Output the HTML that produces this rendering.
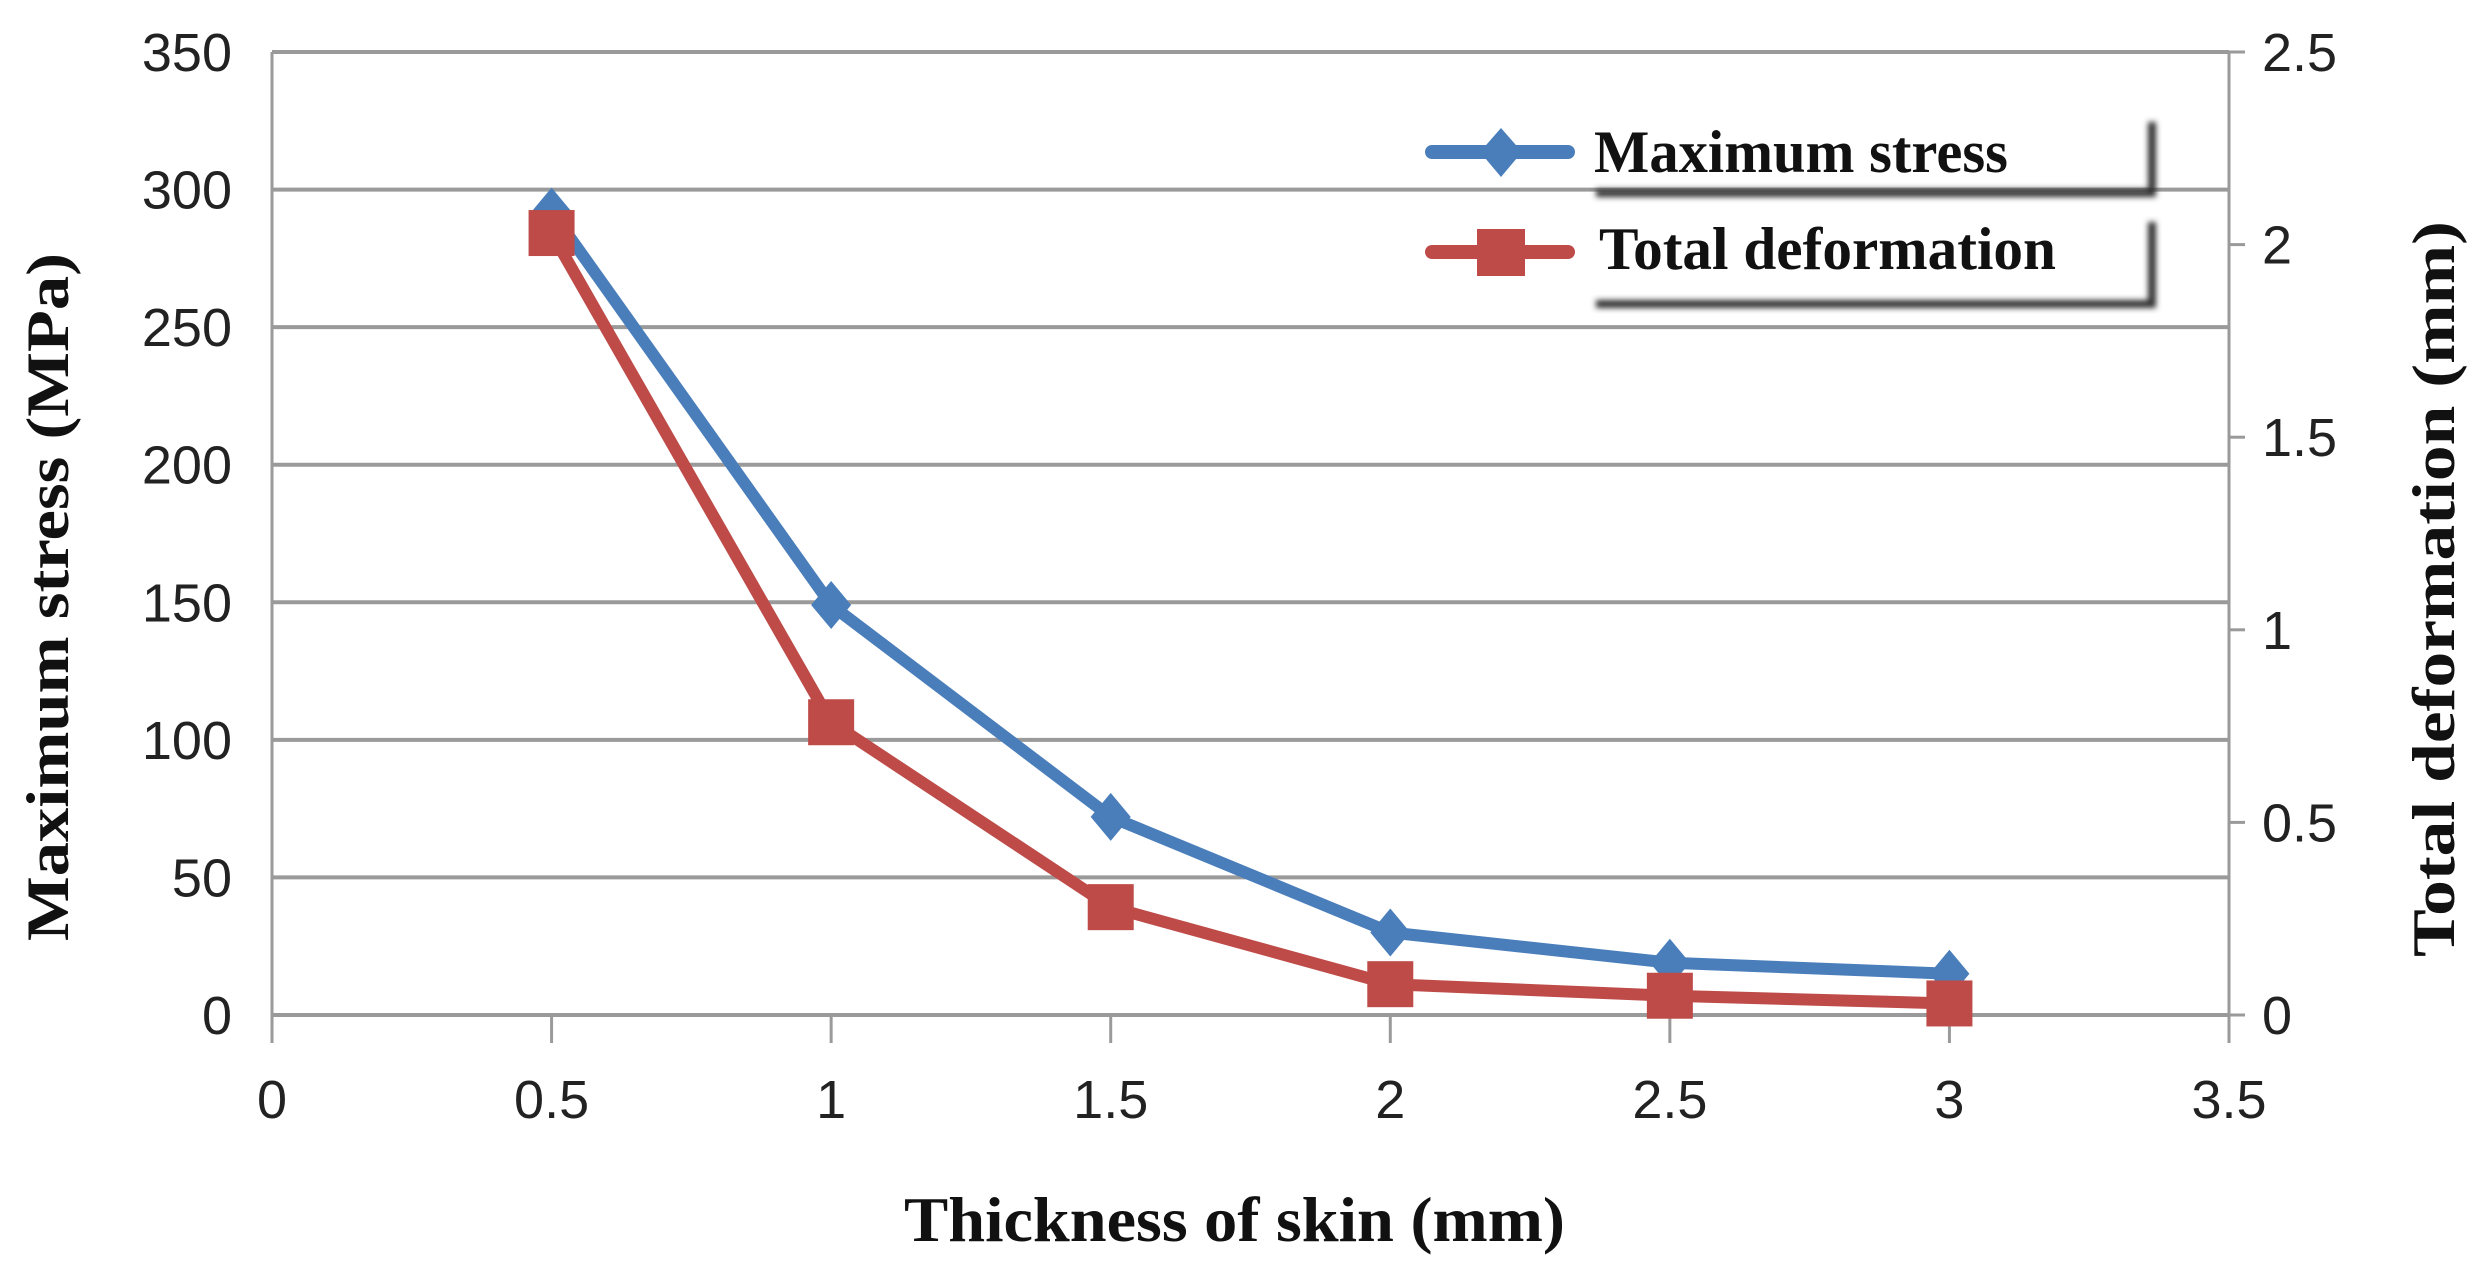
<!DOCTYPE html>
<html><head><meta charset="utf-8"><style>
body{margin:0;background:#fff}
svg{display:block}
.t{font-family:"Liberation Sans",sans-serif;font-size:54px;fill:#222}
.b{font-family:"Liberation Serif",serif;font-weight:bold;font-size:60px;fill:#111}
</style></head><body>
<svg id="c" width="2479" height="1272">
<defs><filter id="sh" x="-10%" y="-30%" width="130%" height="180%"><feGaussianBlur stdDeviation="3"/></filter></defs>
<g id="grid"></g><g id="series"></g>
<g>
 <g>
  <path d="M1596 193 H2152 V122" stroke="#333" stroke-width="8" fill="none" filter="url(#sh)"/>
  <line x1="1432" y1="152" x2="1568" y2="152" stroke="#4a7ebb" stroke-width="14" stroke-linecap="round"/>
  <path d="M1501 128 L1522 152 L1501 177 L1480 152Z" fill="#4a7ebb"/>
  <text class="b" x="1594" y="172" textLength="414" lengthAdjust="spacingAndGlyphs">Maximum stress</text>
 </g>
 <g>
  <path d="M1596 304 H2152 V222" stroke="#333" stroke-width="8" fill="none" filter="url(#sh)"/>
  <line x1="1432" y1="252" x2="1568" y2="252" stroke="#be4b48" stroke-width="14" stroke-linecap="round"/>
  <rect x="1477" y="229" width="48" height="47" fill="#be4b48"/>
  <text class="b" x="1599" y="269" textLength="457" lengthAdjust="spacingAndGlyphs">Total deformation</text>
 </g>
</g>
<text class="b" x="904" y="1241" textLength="661" lengthAdjust="spacingAndGlyphs" style="font-size:64px">Thickness of skin (mm)</text>
<text class="b" transform="translate(68,941) rotate(-90)" textLength="688" lengthAdjust="spacingAndGlyphs">Maximum stress (MPa)</text>
<text class="b" transform="translate(2454,957) rotate(-90)" textLength="736" lengthAdjust="spacingAndGlyphs">Total deformation (mm)</text>
</svg>
<script>
const xVals=[0.5,1,1.5,2,2.5,3];
const stress=[292,149,72,30,19,15];
const deform=[2.03,0.76,0.28,0.08,0.05,0.03];
const xTicks=[0,0.5,1,1.5,2,2.5,3,3.5];
const yLeftTicks=[0,50,100,150,200,250,300,350];
const yRightTicks=[0,0.5,1,1.5,2,2.5];
const L=272,R=2229,T=52,B=1015;
const sx=v=>L+(R-L)*v/3.5, sy=v=>B-(B-T)*v/350, sy2=v=>B-(B-T)*v/2.5;
const NS="http://www.w3.org/2000/svg";
function mk(p,tag,a){const e=document.createElementNS(NS,tag);for(const k in a)e.setAttribute(k,a[k]);p.appendChild(e);return e;}
const g=document.getElementById('grid');
yLeftTicks.forEach(v=>{
 const l=mk(g,'line',{x1:L,x2:R,y1:sy(v),y2:sy(v),stroke:'#9a9a9a','stroke-width':4});
 
 
 const t=mk(g,'text',{x:232,y:sy(v)+19,'text-anchor':'end',class:'t'});t.textContent=v;
 
 
});
yRightTicks.forEach(v=>{
 mk(g,'line',{x1:R,x2:R+16,y1:sy2(v),y2:sy2(v),stroke:'#9a9a9a','stroke-width':3});
 const t=mk(g,'text',{x:2262,y:sy2(v)+19,class:'t'});t.textContent=v;
 
 
});
mk(g,'line',{x1:L,x2:L,y1:T,y2:B+28,stroke:'#9a9a9a','stroke-width':3});
mk(g,'line',{x1:R,x2:R,y1:T,y2:B+28,stroke:'#9a9a9a','stroke-width':3});
xTicks.forEach(v=>{
 mk(g,'line',{x1:sx(v),x2:sx(v),y1:B,y2:B+28,stroke:'#9a9a9a','stroke-width':3});
 const t=mk(g,'text',{x:sx(v),y:1118,'text-anchor':'middle',class:'t'});t.textContent=v;
 
 
});
const s=document.getElementById('series');
const pb=xVals.map((x,i)=>sx(x)+','+sy(stress[i])).join(' ');
const lb=mk(s,'polyline',{points:pb,fill:'none',stroke:'#4a7ebb','stroke-width':12,'stroke-linejoin':'round'});


const pr=xVals.map((x,i)=>sx(x)+','+sy2(deform[i])).join(' ');
const lr=mk(s,'polyline',{points:pr,fill:'none',stroke:'#be4b48','stroke-width':12,'stroke-linejoin':'round'});


xVals.forEach((x,i)=>{
 const X=sx(x),Y=sy(stress[i]);
 const d=mk(s,'path',{d:`M${X} ${Y-24} L${X+20} ${Y} L${X} ${Y+24} L${X-20} ${Y}Z`,fill:'#4a7ebb'});
 
 
});
xVals.forEach((x,i)=>{
 const X=sx(x),Y=sy2(deform[i]);
 const r=mk(s,'rect',{x:X-23,y:Y-23,width:46,height:46,fill:'#be4b48'});
 
 
});
</script>
</body></html>
